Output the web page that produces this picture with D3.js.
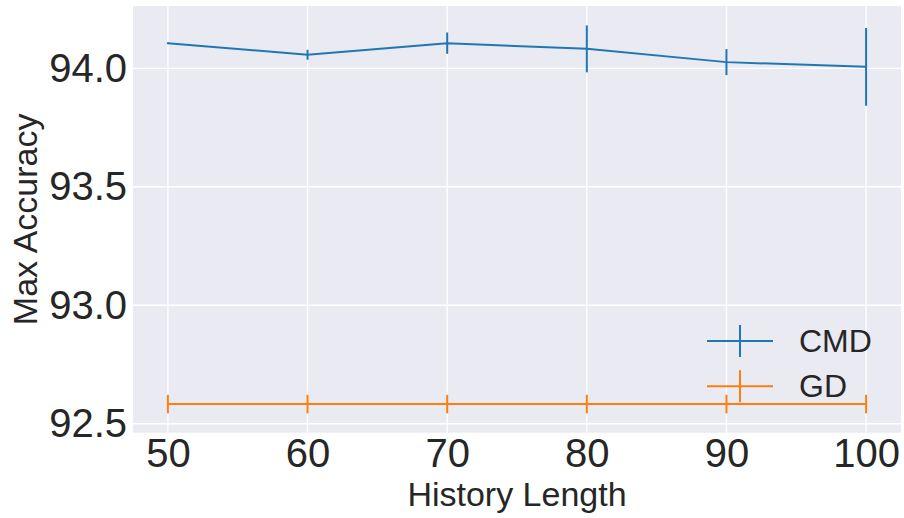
<!DOCTYPE html>
<html lang="en">
<head>
<meta charset="UTF-8">
<script src="https://d3js.org/d3.v7.min.js"></script>
<title>Max Accuracy vs History Length</title>
<style>
  body { margin: 0; background: #fff; }
  text { font-family: "Liberation Sans", Arial, sans-serif; fill: #262626; }
</style>
</head>
<body>
<svg width="904" height="518"></svg>
<script>
// data
let historyLengths = [50, 60, 70, 80, 90, 100];
let cmdMean = [94.106, 94.057, 94.106, 94.082, 94.026, 94.006];
let cmdErr  = [0.004, 0.021, 0.045, 0.099, 0.055, 0.164];
let gdMean  = [92.583, 92.583, 92.583, 92.583, 92.583, 92.583];
let gdErr   = [0.039, 0.039, 0.039, 0.039, 0.039, 0.039];
let xTicks = [50, 60, 70, 80, 90, 100];
let yTicks = [92.5, 93.0, 93.5, 94.0];
let seriesNames = ['CMD', 'GD'];
let colors = ['#1f77b4', '#ff7f0e'];

let svg = d3.select('svg');
let plotLeft = 133, plotRight = 901, plotTop = 6, plotBottom = 432.7;

// matplotlib-like 5% margins
let yLo = d3.min(gdMean.map((d, i) => d - gdErr[i]));
let yHi = d3.max(cmdMean.map((d, i) => d + cmdErr[i]));
let yPad = (yHi - yLo) * 0.05;
let xPad = (d3.max(historyLengths) - d3.min(historyLengths)) * 0.05;

let xScale = d3.scaleLinear()
    .domain([d3.min(historyLengths) - xPad, d3.max(historyLengths) + xPad])
    .range([plotLeft, plotRight]);
let yScale = d3.scaleLinear()
    .domain([yLo - yPad, yHi + yPad])
    .range([plotBottom, plotTop]);

// background
svg.append('rect')
    .attr('x', plotLeft).attr('y', plotTop)
    .attr('width', plotRight - plotLeft).attr('height', plotBottom - plotTop)
    .attr('fill', '#eaeaf2');

// grid
let grid = svg.append('g');
grid.selectAll('.vx').data(xTicks).enter().append('line')
    .attr('x1', d => xScale(d)).attr('x2', d => xScale(d))
    .attr('y1', plotTop).attr('y2', plotBottom)
    .attr('stroke', '#fff').attr('stroke-width', 1.3);
grid.selectAll('.hy').data(yTicks).enter().append('line')
    .attr('x1', plotLeft).attr('x2', plotRight)
    .attr('y1', d => yScale(d)).attr('y2', d => yScale(d))
    .attr('stroke', '#fff').attr('stroke-width', 1.3);

// axes (labels only, seaborn style)
let xAxis = svg.append('g')
    .attr('transform', `translate(0,${plotBottom})`)
    .call(d3.axisBottom(xScale).tickValues(xTicks).tickSize(0).tickPadding(6));
let yAxis = svg.append('g')
    .attr('transform', `translate(${plotLeft},0)`)
    .call(d3.axisLeft(yScale).tickValues(yTicks).tickFormat(d3.format('.1f')).tickSize(0).tickPadding(6));
[xAxis, yAxis].forEach(a => {
    a.select('.domain').remove();
    a.selectAll('text')
        .style('font-size', '40px')
        .style('font-family', '"Liberation Sans", Arial, sans-serif')
        .attr('fill', '#262626');
});

// axis titles
svg.append('text')
    .attr('x', (plotLeft + plotRight) / 2).attr('y', 506)
    .attr('text-anchor', 'middle')
    .style('font-size', '34px')
    .text('History Length');
svg.append('text')
    .attr('transform', `translate(37,${(plotTop + plotBottom) / 2}) rotate(-90)`)
    .attr('text-anchor', 'middle')
    .style('font-size', '34px')
    .text('Max Accuracy');

// series
let series = [
    { mean: cmdMean, err: cmdErr },
    { mean: gdMean, err: gdErr }
];
let line = d3.line()
    .x((d, i) => xScale(historyLengths[i]))
    .y(d => yScale(d));

series.forEach((s, k) => {
    let g = svg.append('g');
    g.append('path')
        .attr('d', line(s.mean))
        .attr('fill', 'none')
        .attr('stroke', colors[k])
        .attr('stroke-width', 2);
    g.selectAll('.eb').data(s.mean).enter().append('line')
        .attr('x1', (d, i) => xScale(historyLengths[i]))
        .attr('x2', (d, i) => xScale(historyLengths[i]))
        .attr('y1', (d, i) => yScale(d - s.err[i]))
        .attr('y2', (d, i) => yScale(d + s.err[i]))
        .attr('stroke', colors[k])
        .attr('stroke-width', 2);
});

// legend
let legend = svg.append('g');
seriesNames.forEach((name, k) => {
    let cy = 341 + k * 45.3;
    legend.append('line')
        .attr('x1', 707).attr('x2', 773).attr('y1', cy).attr('y2', cy)
        .attr('stroke', colors[k]).attr('stroke-width', 2);
    legend.append('line')
        .attr('x1', 740).attr('x2', 740).attr('y1', cy - 16).attr('y2', cy + 16)
        .attr('stroke', colors[k]).attr('stroke-width', 2);
    legend.append('text')
        .attr('x', 799).attr('y', cy + 11)
        .style('font-size', '32px')
        .text(name);
});
</script>
</body>
</html>
